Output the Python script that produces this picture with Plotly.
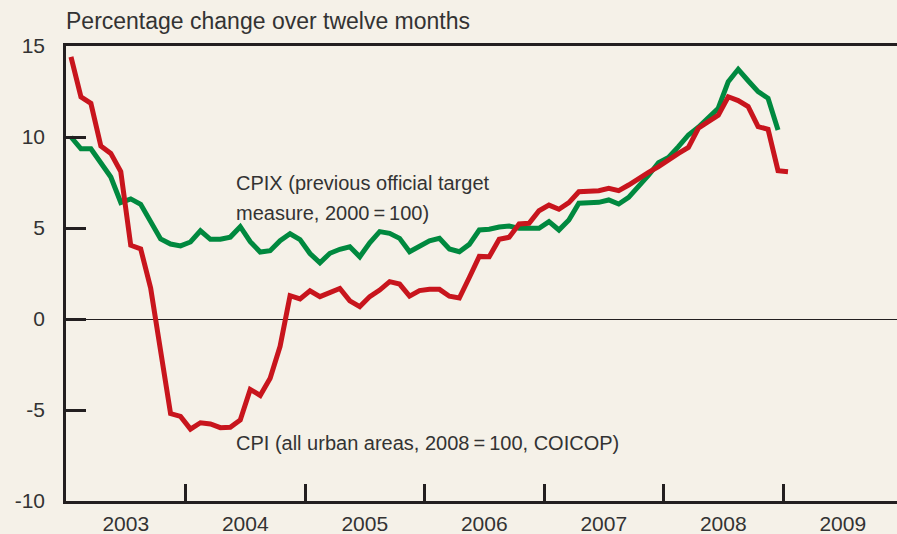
import plotly.graph_objects as go

start_year = 2003
cpi = [14.4, 12.2, 11.85, 9.5, 9.1, 8.1, 4.05, 3.85, 1.7, -1.9, -5.2, -5.35,
       -6.05, -5.7, -5.77, -5.97, -5.95, -5.55, -3.87, -4.2, -3.25, -1.5, 1.28, 1.1,
       1.55, 1.23, 1.45, 1.68, 1.0, 0.68, 1.23, 1.59, 2.05, 1.92, 1.26, 1.56,
       1.63, 1.63, 1.25, 1.15, 2.28, 3.44, 3.42, 4.38, 4.49, 5.22, 5.26, 5.95,
       6.26, 6.03, 6.39, 6.99, 7.02, 7.05, 7.18, 7.05, 7.36, 7.73, 8.06, 8.37,
       8.77, 9.1, 9.43, 10.48, 10.84, 11.2, 12.21, 12.0, 11.67, 10.57, 10.42, 8.15,
       8.09]
cpix = [10.0, 9.35, 9.35, 8.6, 7.8, 6.4, 6.6, 6.3, 5.35, 4.4, 4.12, 4.02,
        4.23, 4.85, 4.38, 4.38, 4.5, 5.07, 4.25, 3.68, 3.75, 4.3, 4.68, 4.36,
        3.6, 3.09, 3.61, 3.83, 3.97, 3.42, 4.19, 4.8, 4.71, 4.43, 3.7, 4.01,
        4.3, 4.43, 3.85, 3.7, 4.1, 4.89, 4.93, 5.05, 5.11, 4.98, 4.98, 4.98,
        5.35, 4.89, 5.44, 6.36, 6.39, 6.41, 6.54, 6.32, 6.68, 7.27, 7.9, 8.59,
        8.88, 9.47, 10.11, 10.53, 11.03, 11.58, 13.04, 13.72, 13.09, 12.49, 12.13, 10.38]
years = [2003, 2004, 2005, 2006, 2007, 2008, 2009]
y_ticks = [-10, -5, 0, 5, 10, 15]
y_tick_text = ["-10", "-5", "0", "5", "10", "15"]
cpix_label = ["CPIX (previous official target", "measure, 2000\u2009=\u2009100)"]
cpi_label = "CPI (all urban areas, 2008\u2009=\u2009100, COICOP)"

x_cpi = [start_year + (i + 0.5) / 12 for i in range(len(cpi))]
x_cpix = [start_year + (i + 0.5) / 12 for i in range(len(cpix))]

ink = "#231f20"
txt = "#333333"
bg = "#f5f1e8"
font = "Liberation Sans"

fig = go.Figure()
fig.add_trace(go.Scatter(x=x_cpix, y=cpix, mode="lines",
                         line=dict(color="#00893f", width=5), name="CPIX"))
fig.add_trace(go.Scatter(x=x_cpi, y=cpi, mode="lines",
                         line=dict(color="#c8151d", width=5), name="CPI"))

fig.update_layout(
    width=897, height=534,
    margin=dict(l=66, r=0, t=46, b=33, autoexpand=False),
    paper_bgcolor=bg, plot_bgcolor=bg,
    showlegend=False,
    font=dict(family=font, size=20, color=txt),
    title=dict(text="Percentage change over twelve months", x=66/897, xanchor="left",
               xref="container", y=1 - 21/534, yanchor="middle", yref="container",
               font=dict(family=font, size=23, color=txt)),
    xaxis=dict(range=[2003, 2003 + 831 / 119.5], automargin=False,
               tickmode="array",
               tickvals=[y + 0.5 for y in years],
               ticktext=[str(y) for y in years],
               ticks="", showgrid=False, zeroline=False,
               showline=True, linecolor=ink, linewidth=2.5, mirror=True,
               ticklabelstandoff=2,
               tickfont=dict(family=font, size=21, color=txt),
               minor=dict(tickmode="array", tickvals=years[1:], ticks="inside",
                          ticklen=17, tickwidth=2.5, tickcolor=ink, showgrid=False)),
    yaxis=dict(range=[-10, 15], automargin=False, tickmode="array",
               tickvals=y_ticks, ticktext=y_tick_text,
               ticks="inside", ticklen=20, tickwidth=2.5, tickcolor=ink,
               showgrid=False, zeroline=True, zerolinecolor=ink, zerolinewidth=1.2,
               showline=True, linecolor=ink, linewidth=2.5, mirror=False,
               ticklabelstandoff=14,
               tickfont=dict(family=font, size=21, color=txt)),
)

label_x = 2003 + (236 - 65.5) / 119.5
for line, py in zip(cpix_label, [183, 213]):
    fig.add_annotation(x=label_x, y=(319 - py) / 18.2, xref="x", yref="y",
                       text=line, showarrow=False, xanchor="left", yanchor="middle",
                       xshift=-3, font=dict(family=font, size=20, color=txt))
fig.add_annotation(x=label_x, y=(319 - 443) / 18.2, xref="x", yref="y",
                   text=cpi_label, showarrow=False, xanchor="left", yanchor="middle",
                   xshift=-3, font=dict(family=font, size=20, color=txt))

fig.write_html("out.html", config={"displayModeBar": False},
               post_script="document.body.style.margin='0';document.body.style.padding='0';"
                           "document.body.style.overflow='hidden';"
                           "document.documentElement.style.overflow='hidden';")
